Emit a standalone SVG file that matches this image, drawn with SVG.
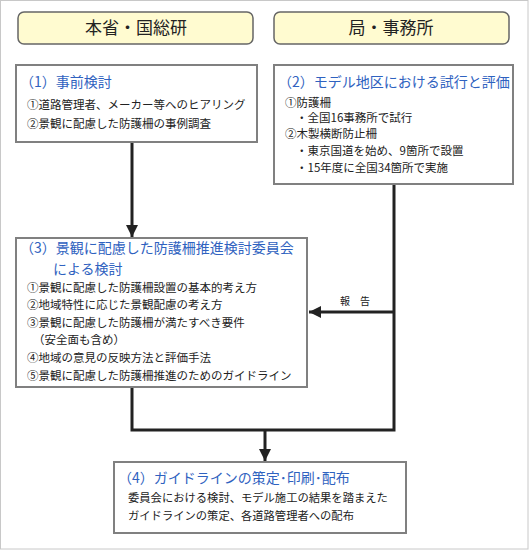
<svg xmlns="http://www.w3.org/2000/svg" width="529" height="550" viewBox="0 0 529 550">
<defs>
<style>
text{font-family:"Noto Sans CJK JP","Noto Sans CJK SC",sans-serif;fill:#222}
.hdr{font-size:17px;text-anchor:middle}
.ttl{font-size:14px;fill:#2F62C0}
.itm{font-size:11.5px}
.hbox{fill:#FFFBD0;stroke:#666;stroke-width:1.5}
.box{fill:#fff;stroke:#808080;stroke-width:2}
.con{fill:none;stroke:#222;stroke-width:3}
</style>
<marker id="ah" viewBox="0 0 10 10" refX="10" refY="5" markerWidth="4" markerHeight="4" orient="auto" markerUnits="strokeWidth">
<path d="M0,0 L10,5 L0,10 z" fill="#222"/>
</marker>
</defs>
<rect x="0.5" y="0.5" width="527.5" height="548.5" fill="#fff" stroke="#c8c8c8" stroke-width="1"/>
<g id="hdr-left">
<rect class="hbox" x="18" y="12" width="235" height="32" rx="6"/>
<text class="hdr" x="136" y="34">本省・国総研</text>
</g>
<g id="hdr-right">
<rect class="hbox" x="274" y="12" width="235" height="32" rx="6"/>
<text class="hdr" x="391" y="34">局・事務所</text>
</g>
<g id="connectors">
<line class="con" x1="132" y1="142" x2="132" y2="237" marker-end="url(#ah)"/>
<polyline class="con" points="394,184 394,430 132,430 132,387"/>
<line class="con" x1="394" y1="312" x2="309" y2="312" marker-end="url(#ah)"/>
<line class="con" x1="265" y1="430" x2="265" y2="461" marker-end="url(#ah)"/>
<text class="itm" x="355" y="305" style="font-size:10px;text-anchor:middle">報　告</text>
</g>
<g id="box1">
<rect class="box" x="16" y="65" width="241" height="77"/>
<text class="ttl" x="20" y="87">（1）事前検討</text>
<text class="itm" x="27" y="109">①道路管理者、メーカー等へのヒアリング</text>
<text class="itm" x="27" y="128">②景観に配慮した防護柵の事例調査</text>
</g>
<g id="box2">
<rect class="box" x="274" y="65" width="239" height="119"/>
<text class="ttl" x="278" y="87">（2）モデル地区における試行と評価</text>
<text class="itm" x="285" y="107">①防護柵</text>
<text class="itm" x="296" y="122">・全国16事務所で試行</text>
<text class="itm" x="285" y="138">②木製横断防止柵</text>
<text class="itm" x="296" y="155">・東京国道を始め、9箇所で設置</text>
<text class="itm" x="296" y="172">・15年度に全国34箇所で実施</text>
</g>
<g id="box3">
<rect class="box" x="16" y="238" width="291" height="149"/>
<text class="ttl" x="20" y="253">（3）景観に配慮した防護柵推進検討委員会</text>
<text class="ttl" x="53" y="274">による検討</text>
<text class="itm" x="27" y="292">①景観に配慮した防護柵設置の基本的考え方</text>
<text class="itm" x="27" y="309">②地域特性に応じた景観配慮の考え方</text>
<text class="itm" x="27" y="327">③景観に配慮した防護柵が満たすべき要件</text>
<text class="itm" x="33" y="344">（安全面も含め）</text>
<text class="itm" x="27" y="362">④地域の意見の反映方法と評価手法</text>
<text class="itm" x="27" y="380">⑤景観に配慮した防護柵推進のためのガイドライン</text>
</g>
<g id="box4">
<rect class="box" x="114" y="462" width="292" height="71"/>
<text class="ttl" x="118" y="483">（4）ガイドラインの策定･印刷･配布</text>
<text class="itm" x="128" y="502" style="font-size:11.3px">委員会における検討、モデル施工の結果を踏まえた</text>
<text class="itm" x="128" y="520" style="font-size:11.3px">ガイドラインの策定、各道路管理者への配布</text>
</g>
</svg>
